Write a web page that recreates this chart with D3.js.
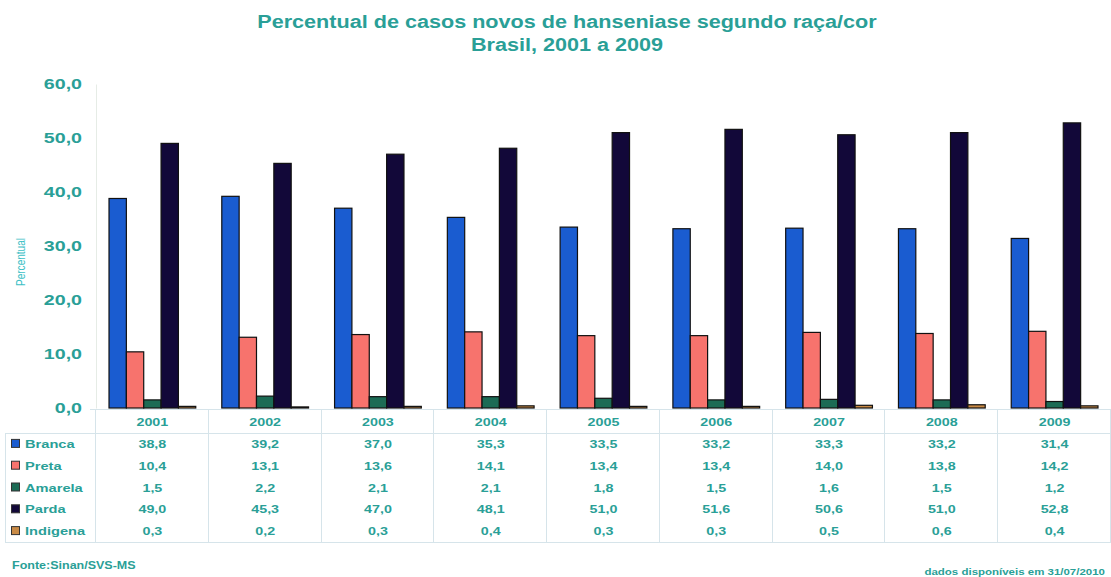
<!DOCTYPE html>
<html>
<head>
<meta charset="utf-8">
<script src="https://cdn.jsdelivr.net/npm/d3@7"></script>
<style>
  html, body { margin: 0; padding: 0; background: #ffffff; }
  svg { display: block; font-family: "Liberation Sans", Arial, sans-serif; }
</style>
</head>
<body>
<svg id="chart" width="1111" height="577"></svg>
<script>
const years = ["2001","2002","2003","2004","2005","2006","2007","2008","2009"];
const seriesNames = ["Branca","Preta","Amarela","Parda","Indigena"];
const branca   = [38.8, 39.2, 37.0, 35.3, 33.5, 33.2, 33.3, 33.2, 31.4];
const preta    = [10.4, 13.1, 13.6, 14.1, 13.4, 13.4, 14.0, 13.8, 14.2];
const amarela  = [1.5, 2.2, 2.1, 2.1, 1.8, 1.5, 1.6, 1.5, 1.2];
const parda    = [49.0, 45.3, 47.0, 48.1, 51.0, 51.6, 50.6, 51.0, 52.8];
const indigena = [0.3, 0.2, 0.3, 0.4, 0.3, 0.3, 0.5, 0.6, 0.4];
const yTicks = [0, 10, 20, 30, 40, 50, 60];

const seriesValues = [branca, preta, amarela, parda, indigena];
const colors = ["#1a5cd0", "#f7736d", "#1c6b55", "#120839", "#c98a45"];
const teal = "#2a9f97";

const svg = d3.select("#chart");
const pLeft = 96, pRight = 1111, pTop = 84, pBottom = 408;

// the original picture is horizontally stretched; widen text glyphs accordingly
function stretch(sel, k) {
  sel.each(function() {
    const len = this.getComputedTextLength();
    d3.select(this).attr("textLength", len * k).attr("lengthAdjust", "spacingAndGlyphs");
  });
  return sel;
}

const x = d3.scaleBand().domain(years).range([pLeft, pRight]).paddingInner(0).paddingOuter(0);
const xs = d3.scaleBand().domain(seriesNames).range([0, x.bandwidth()]).paddingInner(0).paddingOuter(0.75);
const y = d3.scaleLinear().domain([0, 60]).range([pBottom, pTop]);

// Title
stretch(svg.append("text").attr("x", 567).attr("y", 28).attr("text-anchor", "middle")
  .attr("font-size", 18).attr("font-weight", "bold").attr("fill", teal)
  .text("Percentual de casos novos de hanseniase segundo raça/cor"), 1.2);
stretch(svg.append("text").attr("x", 567).attr("y", 51).attr("text-anchor", "middle")
  .attr("font-size", 18).attr("font-weight", "bold").attr("fill", teal)
  .text("Brasil, 2001 a 2009"), 1.2);

// Y axis
const yAxis = d3.axisLeft(y).tickValues(yTicks).tickSize(0).tickPadding(14)
  .tickFormat(d => d3.format(".1f")(d).replace(".", ","));
const gy = svg.append("g").attr("transform", `translate(${pLeft},0)`).call(yAxis);
gy.select(".domain").attr("stroke", "#e6ece6");
stretch(gy.selectAll("text").attr("font-size", 14).attr("font-weight", "bold").attr("fill", teal)
  .attr("font-family", "Liberation Sans, Arial, sans-serif"), 1.4);

svg.append("text").attr("transform", "translate(25,262) rotate(-90)")
  .attr("text-anchor", "middle").attr("font-size", 12.5).attr("fill", "#3dbfc6")
  .attr("textLength", 48).attr("lengthAdjust", "spacingAndGlyphs")
  .text("Percentual");

// Bars
const groups = svg.append("g").selectAll("g").data(years).join("g")
  .attr("transform", d => `translate(${x(d)},0)`);
groups.each(function(yr, i) {
  d3.select(this).selectAll("rect").data(seriesNames).join("rect")
    .attr("x", s => xs(s))
    .attr("width", xs.bandwidth())
    .attr("y", (s, j) => y(seriesValues[j][i]))
    .attr("height", (s, j) => Math.max(0, pBottom - y(seriesValues[j][i])))
    .attr("fill", (s, j) => colors[j])
    .attr("stroke", "#111")
    .attr("stroke-width", 1.2);
});

// Data table
const tableTop = 409, headerBottom = 433, rowH = 21.8;
const tableBottom = headerBottom + rowH * 5;
const gridColor = "#d6e4ea";
const tbl = svg.append("g");
tbl.append("line").attr("x1", pLeft - 6).attr("x2", pRight).attr("y1", tableTop + 0.5).attr("y2", tableTop + 0.5).attr("stroke", gridColor);
tbl.append("line").attr("x1", 5).attr("x2", pRight).attr("y1", headerBottom + 0.5).attr("y2", headerBottom + 0.5).attr("stroke", gridColor);
tbl.append("line").attr("x1", 5).attr("x2", pRight).attr("y1", tableBottom + 0.5).attr("y2", tableBottom + 0.5).attr("stroke", gridColor);
const colEdges = years.map(d => x(d)).concat([pRight]);
tbl.selectAll("line.v").data(colEdges).join("line").attr("class", "v")
  .attr("x1", d => Math.round(d) - 0.5).attr("x2", d => Math.round(d) - 0.5)
  .attr("y1", tableTop).attr("y2", tableBottom).attr("stroke", gridColor);
tbl.append("line").attr("x1", 5.5).attr("x2", 5.5).attr("y1", headerBottom).attr("y2", tableBottom).attr("stroke", gridColor);

// header years
stretch(tbl.selectAll("text.yr").data(years).join("text").attr("class", "yr")
  .attr("x", d => x(d) + x.bandwidth() / 2).attr("y", 426)
  .attr("text-anchor", "middle").attr("font-size", 11).attr("font-weight", "bold").attr("fill", teal)
  .text(d => d), 1.3);

// rows
seriesNames.forEach((s, j) => {
  const cy = headerBottom + rowH * j + rowH / 2;
  tbl.append("rect").attr("x", 11.5).attr("y", cy - 4.5).attr("width", 8).attr("height", 8)
    .attr("fill", colors[j]).attr("stroke", "#333").attr("stroke-width", 1);
  stretch(tbl.append("text").attr("x", 25).attr("y", cy + 4).attr("font-size", 11).attr("font-weight", "bold")
    .attr("fill", teal).text(s), 1.33);
  stretch(tbl.selectAll(null).data(years).join("text")
    .attr("x", d => x(d) + x.bandwidth() / 2).attr("y", cy + 4)
    .attr("text-anchor", "middle").attr("font-size", 11).attr("font-weight", "bold").attr("fill", teal)
    .text((d, i) => d3.format(".1f")(seriesValues[j][i]).replace(".", ",")), 1.3);
});

// Footer
stretch(svg.append("text").attr("x", 12).attr("y", 569).attr("font-size", 10).attr("font-weight", "bold")
  .attr("fill", teal).text("Fonte:Sinan/SVS-MS"), 1.25);
stretch(svg.append("text").attr("x", 1105).attr("y", 575).attr("text-anchor", "end").attr("font-size", 8.5)
  .attr("font-weight", "bold").attr("fill", teal).text("dados disponíveis em 31/07/2010"), 1.35);
</script>
</body>
</html>
